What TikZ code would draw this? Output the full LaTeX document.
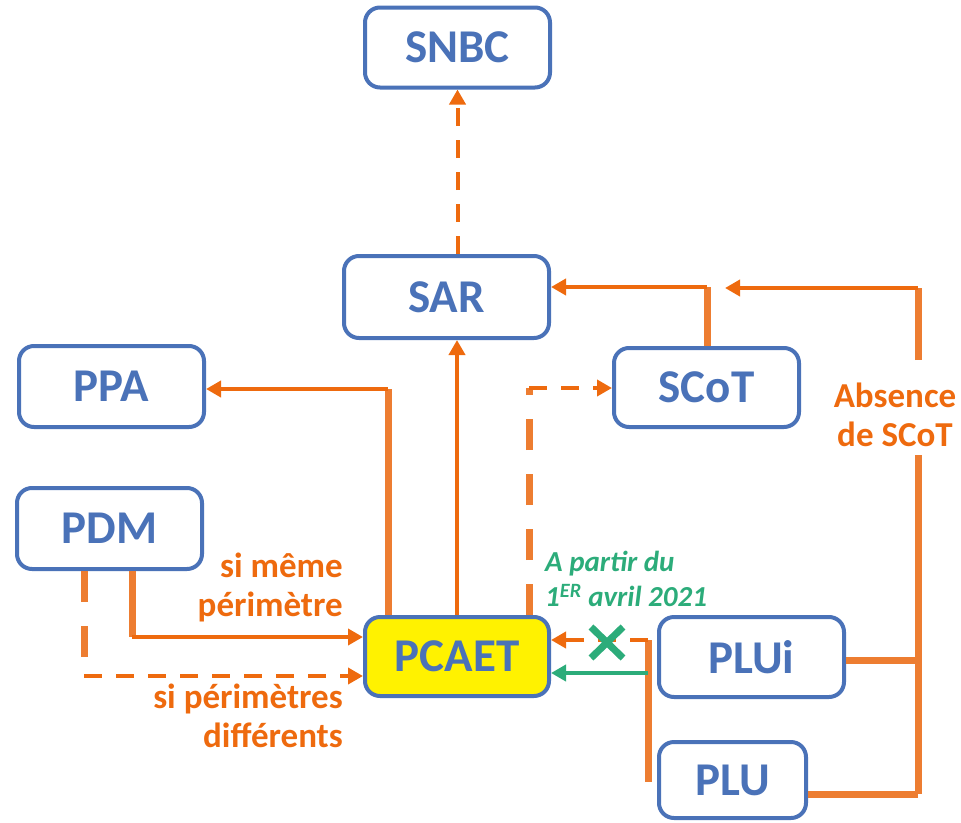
\documentclass[tikz,border=0pt]{standalone}
\usepackage{fontspec}
\setmainfont{Carlito}
\usetikzlibrary{arrows.meta,calc}
\definecolor{bblue}{RGB}{74,114,184}
\definecolor{orL}{RGB}{237,125,49}
\definecolor{orD}{RGB}{238,106,14}
\definecolor{gr}{RGB}{44,172,122}
\tikzset{
  box/.style={draw=bblue, line width=4pt, rounded corners=15pt, text=bblue, fill=white,
    font=\bfseries\fontsize{47}{50}\selectfont, inner sep=0pt},
  thk/.style={draw=orL, line width=7pt},
  thn/.style={draw=orD, line width=4pt, -{Triangle[length=15pt,width=16pt]}},
  grn/.style={draw=gr, line width=4pt, -{Triangle[length=15pt,width=16pt]}},
  thkdash/.style={thk, dash pattern=on 31pt off 24pt},
  thndash/.style={thn, dash pattern=on 18pt off 14pt},
  olab/.style={text=orD, font=\bfseries\fontsize{35}{39}\selectfont, inner sep=0pt},
  glab/.style={text=gr, font=\bfseries\itshape\fontsize{29}{35}\selectfont, inner sep=0pt}
}
\begin{document}
\begin{tikzpicture}[x=1pt,y=-1pt]
\useasboundingbox (0,0) rectangle (961,822);
% boxes
\node[box, minimum width=185pt, minimum height=80pt] (snbc) at (457.5,47.5) {SNBC};
\node[box, minimum width=205pt, minimum height=82pt] (sar) at (446.5,297) {SAR};
\node[box, minimum width=185pt, minimum height=81pt] (ppa) at (111.5,386.5) {PPA};
\node[box, minimum width=185pt, minimum height=81pt] (pdm) at (109.5,528.5) {PDM};
\node[box, minimum width=185pt, minimum height=79pt] (scot) at (706.5,387.5) {SCoT};
\node[box, fill=yellow, minimum width=184pt, minimum height=79pt] (pcaet) at (457,656.5) {PCAET};
\node[box, minimum width=185pt, minimum height=80pt] (plui) at (751.5,657) {PLUi};
\node[box, minimum width=147pt, minimum height=76pt] (plu) at (732.5,780) {PLU};

% coordinates
\coordinate (c1) at (388,389);
\coordinate (c2) at (707,287);
\coordinate (c3) at (918,288);
\coordinate (c3b) at (918,360);
\coordinate (c3c) at (918,455);
\coordinate (c4) at (918,660);
\coordinate (c5) at (918,794);
\coordinate (c6) at (529,388);
\coordinate (c7) at (648,640);
\coordinate (c7b) at (648,673);
\coordinate (c8) at (648,782);
\coordinate (c9) at (132,637);
\coordinate (c10) at (84,676);
\coordinate (a3) at (725,288);
\coordinate (x1) at (591,627);
\coordinate (x2) at (623,658);
\coordinate (x3) at (591,658);
\coordinate (x4) at (623,627);

% SAR -> SNBC
\draw[thndash] (sar.north -| snbc.south) -- (snbc.south);
% PCAET -> SAR
\draw[thn] (pcaet.north) -- (pcaet.north |- sar.south);
% PCAET -> PPA
\draw[thk] (pcaet.north -| c1) -- (c1);
\draw[thn] (c1) -- (c1 -| ppa.east);
% SCoT -> SAR
\draw[thk] (scot.north -| c2) -- (c2);
\draw[thn] (c2) -- (c2 -| sar.east);
% Absence de SCoT
\draw[thk] (c3b) -- (c3);
\draw[thn] (c3) -- (a3);
\draw[thk] (c3c) -- (c5);
\draw[thk] (plui.east |- c4) -- (c4);
\draw[thk] (plu.east |- c5) -- (c5);
\node[olab, align=center] (abs) at (895,415) {Absence\\de SCoT};
% PCAET -> SCoT dashed
\draw[thkdash] (pcaet.north -| c6) -- (c6);
\draw[thndash] (c6) -- (c6 -| scot.west);
% PLU/PLUi -> PCAET
\draw[thk] (c7) -- (c8);
\draw[thn, dash pattern=on 18pt off 14pt] (c7) -- (c7 -| pcaet.east);
\draw[grn] (c7b) -- (c7b -| pcaet.east);
\draw[draw=gr, line width=7pt] (x1) -- (x2) (x3) -- (x4);
\node[glab, align=left, anchor=north west] (apartir) at (545,551) {A partir du\\1\textsuperscript{ER} avril 2021};
% PDM -> PCAET
\draw[thk] (pdm.south -| c9) -- (c9);
\draw[thn] (c9) -- (c9 -| pcaet.west);
\draw[thkdash] (pdm.south -| c10) -- (c10);
\draw[thndash] (c10) -- (c10 -| pcaet.west);
\node[olab, align=right, anchor=north east] (same) at (343,553) {si même\\périmètre};
\node[olab, align=right, anchor=north east] (diff) at (343,684) {si périmètres\\différents};
\end{tikzpicture}
\end{document}
